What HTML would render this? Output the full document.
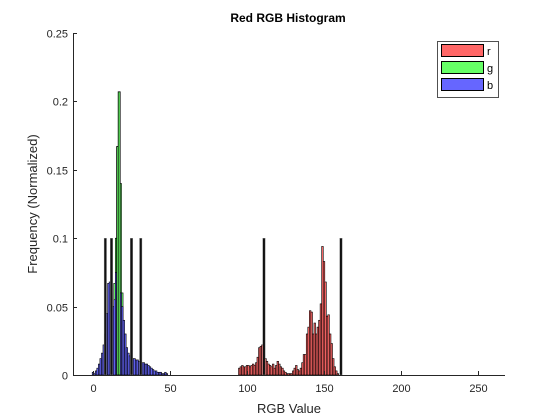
<!DOCTYPE html>
<html><head><meta charset="utf-8"><style>
body{margin:0;background:#fff;}
svg{display:block;font-family:"Liberation Sans",Arial,sans-serif;}
</style></head><body>
<svg id="chart" width="560" height="420">
<text x="288" y="22" text-anchor="middle" font-size="12" font-weight="bold" fill="#000">Red RGB Histogram</text>
<g id="bars"></g>
<g id="axes"></g>
<text x="289" y="413" text-anchor="middle" font-size="13" fill="#262626">RGB Value</text>
<text transform="translate(37,204) rotate(-90)" text-anchor="middle" font-size="13" fill="#262626">Frequency (Normalized)</text>
<g>
<rect x="437.5" y="41.5" width="61" height="56" fill="#fff" stroke="#262626" stroke-width="0.8"/>
<rect x="441.5" y="44.5" width="42" height="12" fill="#ff6666" stroke="#000"/>
<text x="487" y="55" font-size="11" fill="#000">r</text>
<rect x="441.5" y="61.5" width="42" height="12" fill="#66ff66" stroke="#000"/>
<text x="487" y="72" font-size="11" fill="#000">g</text>
<rect x="441.5" y="78.5" width="42" height="12" fill="#6666ff" stroke="#000"/>
<text x="487" y="89" font-size="11" fill="#000">b</text>
</g>
</svg>
<script>
const xTicks=[0,50,100,150,200,250];
const yTicks=[0,0.05,0.1,0.15,0.2,0.25];
const yTickLabels=["0","0.05","0.1","0.15","0.2","0.25"];
const rStart=95;
const rValues=[0.005,0.006,0.007,0.006,0.006,0.007,0.007,0.006,0.007,0.008,0.007,0.009,0.013,0.02,0.021,0.022,0.009,0.012,0.01,0.008,0.007,0.006,0.008,0.005,0.007,0.01,0.008,0.006,0.005,0.003,0.002,0.001,0.001,0.001,
0.001,0.003,0.005,0.007,0.004,0.003,0.005,0.009,0.015,0.015,0.03,0.035,0.047,0.046,0.03,0.038,0.03,0.035,0.04,0.052,0.094,0.083,0.068,0.043,0.044,0.03,0.023,0.012,0.006,0.003,0.001];
const gStart=12;
const gValues=[0.01,0.03,0.067,0.1,0.167,0.207,0.14,0.06,0.03,0.015,0.008,0.004];
const bStart=0;
const bValues=[0.002,0.001,0.003,0.005,0.008,0.012,0.016,0.022,0.03,0.045,0.067,0.068,0.06,0.05,0.055,0.075,0.08,0.078,0.06,0.05,0.04,0.03,0.02,0.016,0.014,0.013,0.012,0.012,0.011,0.011,0.01,0.01,0.009,0.009,0.008,0.008,0.007,0.006,0.005,0.004,0.003,0.003,0.002,0.002,0.002,0.001,0.001,0.002,0.001];
const spikeBins=[8,12,25,31,111,161];
const spikeValues=[0.1,0.1,0.1,0.1,0.1,0.1];
const peakBins=[16,17];
const peakValues=[0.167,0.207];

const X0=93,XS=1.54,Y0=375,YS=1368;
const xs=v=>X0+v*XS;
const ys=v=>Y0-v*YS;
const NS="http://www.w3.org/2000/svg";
const bars=document.getElementById('bars');
const axes=document.getElementById('axes');
function mk(tag,attrs,parent){const e=document.createElementNS(NS,tag);for(const k in attrs)e.setAttribute(k,attrs[k]);parent.appendChild(e);return e;}
function series(start,vals,fill,name,w,sw){
  vals.forEach((v,i)=>{
    const b=start+i;
    const r=mk('rect',{x:xs(b)-w/2,y:ys(v),width:w,height:Y0-ys(v),fill:fill,stroke:'#000','stroke-width':sw},bars);
    
    
  });
}
series(rStart,rValues,'#ff6666','r',1.6,0.6);
series(gStart,gValues,'#66ff66','g',1.6,0.6);
series(bStart,bValues,'#6666ff','b',1.6,0.6);
spikeBins.forEach((b,i)=>{
  const v=spikeValues[i];
  const r=mk('rect',{x:xs(b)-1.2,y:ys(v),width:2.4,height:Y0-ys(v),fill:'#111',stroke:'#888','stroke-width':0.4},bars);
  
  
});
peakBins.forEach((b,i)=>{
  const v=peakValues[i];
  const r=mk('rect',{x:xs(b)-1,y:ys(v),width:2,height:Y0-ys(v),fill:'#66ff66',stroke:'#000','stroke-width':0.8},bars);
  
  
});
const xl=mk('line',{x1:73,y1:375.5,x2:505,y2:375.5,stroke:'#262626','stroke-width':1},axes);


const yl=mk('line',{x1:73.5,y1:33,x2:73.5,y2:375,stroke:'#262626','stroke-width':1},axes);


xTicks.forEach(t=>{
  const x=Math.round(xs(t))+0.5;
  const l=mk('line',{x1:x,y1:375,x2:x,y2:371,stroke:'#262626'},axes);
  
  
  const tx=mk('text',{x:x,y:392,'text-anchor':'middle','font-size':11,fill:'#262626'},axes);
  tx.textContent=t;
  
  
});
yTicks.forEach((t,i)=>{
  const y=Math.round(ys(t))+0.5;
  const l=mk('line',{x1:73,y1:y,x2:77,y2:y,stroke:'#262626'},axes);
  
  
  const tx=mk('text',{x:68,y:y+4,'text-anchor':'end','font-size':11,fill:'#262626'},axes);
  tx.textContent=yTickLabels[i];
  
  
});
</script>
</body></html>
